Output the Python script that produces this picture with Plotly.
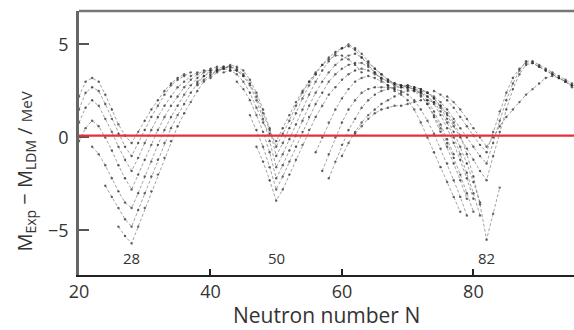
import plotly.graph_objects as go

# Isotope chains: (first neutron number N, values of M_Exp - M_LDM in MeV at N, N+1, ...)
c1_start, c1 = 20, [2.2, 3.0, 3.2, 3.0, 2.3, 1.5, 0.7, 0.1, -0.3, 0.3, 0.9, 1.5, 2.0, 2.5, 2.9, 3.2, 3.4]
c2_start, c2 = 20, [1.5, 2.4, 2.7, 2.5, 1.8, 1.0, 0.2, -0.5, -1.0, -0.3, 0.4, 1.1, 1.7, 2.3, 2.8, 3.1, 3.3, 3.5]
c3_start, c3 = 20, [0.8, 1.6, 2.0, 1.7, 1.0, 0.3, -0.5, -1.2, -1.8, -1.1, -0.3, 0.4, 1.1, 1.7, 2.2, 2.7, 3.0, 3.3, 3.5]
c4_start, c4 = 20, [-0.2, 0.5, 0.9, 0.6, 0.0, -0.7, -1.5, -2.2, -2.8, -2.0, -1.2, -0.4, 0.4, 1.1, 1.7, 2.2, 2.7, 3.1, 3.4, 3.6, 3.6]
c5_start, c5 = 22, [-0.5, -0.9, -1.5, -2.2, -2.9, -3.5, -3.8, -3.0, -2.1, -1.3, -0.4, 0.4, 1.1, 1.7, 2.3, 2.8, 3.2, 3.5, 3.7, 3.8]
c6_start, c6 = 24, [-2.6, -3.2, -3.8, -4.4, -4.8, -3.9, -3.0, -2.1, -1.2, -0.3, 0.5, 1.2, 1.8, 2.4, 2.9, 3.3, 3.6, 3.7, 3.8, 3.7]
c7_start, c7 = 26, [-4.8, -5.3, -5.7, -4.8, -3.8, -2.9, -2.0, -1.1, -0.2, 0.6, 1.3, 1.9, 2.5, 3.0, 3.3, 3.6, 3.7, 3.8, 3.6, 3.3]

d1_start, d1 = 38, [3.0, 3.3, 3.5, 3.6, 3.7, 3.6, 3.4, 3.0, 2.4, 1.6, 0.8, 0.2, -0.2, 0.5, 1.2, 1.9, 2.5, 3.0, 3.4]
d2_start, d2 = 38, [2.8, 3.1, 3.4, 3.6, 3.8, 3.8, 3.7, 3.4, 2.9, 2.2, 1.3, 0.4, -0.5, 0.2, 0.9, 1.7, 2.4, 3.0, 3.5, 3.9,
                    4.2, 4.4, 4.4, 4.2, 3.9, 3.5]
d3_start, d3 = 40, [3.2, 3.5, 3.7, 3.9, 3.8, 3.6, 3.1, 2.4, 1.5, 0.5, -1.0, -0.3, 0.5, 1.3, 2.1, 2.8, 3.4, 3.9, 4.3, 4.6,
                    4.8, 4.9, 4.7, 4.3, 3.9, 3.5, 3.1, 2.8, 2.6]
d4_start, d4 = 42, [3.5, 3.6, 3.6, 3.3, 2.8, 2.0, 1.0, -0.2, -1.6, -0.9, -0.1, 0.7, 1.5, 2.3, 3.0, 3.6, 4.1, 4.5, 4.8, 5.0,
                    4.8, 4.5, 4.1, 3.7, 3.4, 3.1, 2.9, 2.8, 2.7, 2.6, 2.4, 2.0, 1.4, 0.7, -0.1, -0.9]
d5_start, d5 = 44, [3.0, 2.6, 2.0, 1.2, 0.3, -0.8, -2.2, -1.5, -0.7, 0.1, 0.9, 1.7, 2.4, 3.0, 3.5, 3.9, 4.2, 4.4, 4.5, 4.3,
                    4.0, 3.7, 3.4, 3.1, 2.9, 2.8, 2.7, 2.6, 2.3, 1.8, 1.1, 0.3, -0.5, -1.4, -2.3, -3.3]
d6_start, d6 = 46, [1.2, 0.4, -0.5, -1.6, -2.8, -2.1, -1.3, -0.5, 0.3, 1.1, 1.8, 2.4, 3.0, 3.4, 3.7, 3.9, 4.0, 4.0, 3.8, 3.5,
                    3.2, 3.0, 2.8, 2.7, 2.7, 2.6, 2.5, 2.2, 1.8, 1.2, 0.5, -0.3, -1.2, -2.2, -3.3]
d7_start, d7 = 47, [-0.5, -1.3, -2.3, -3.4, -2.8, -2.0, -1.2, -0.4, 0.4, 1.1, 1.7, 2.3, 2.7, 3.1, 3.4, 3.6, 3.7, 3.6, 3.4, 3.2,
                    3.0, 2.9, 2.8, 2.8, 2.7, 2.6, 2.4, 2.1, 1.6, 1.0, 0.3, -0.5, -1.4, -2.4, -3.5]

e1_start, e1 = 56, [-0.8, 0.0, 0.8, 1.5, 2.1, 2.6, 3.0, 3.2, 3.3, 3.2, 3.0, 2.8, 2.5, 2.3, 2.0, 1.5, 0.8, 0.0, -0.8, -1.6,
                    -2.4, -3.2, -4.0]
e2_start, e2 = 57, [-1.8, -0.9, 0.0, 0.8, 1.5, 2.0, 2.4, 2.6, 2.7, 2.7, 2.7, 2.6, 2.5, 2.3, 2.0, 1.5, 0.9, 0.2, -0.6, -1.4,
                    -2.3, -3.2, -4.2]
e3_start, e3 = 58, [-2.2, -1.3, -0.4, 0.4, 1.0, 1.6, 2.0, 2.3, 2.5, 2.6, 2.7, 2.7, 2.6, 2.5, 2.2, 1.8, 1.2, 0.5, -0.3, -1.1,
                    -2.0, -3.0, -4.0]
e4_start, e4 = 60, [-1.0, -0.3, 0.3, 0.8, 1.2, 1.5, 1.8, 2.0, 2.2, 2.4, 2.5, 2.5, 2.4, 2.2, 1.9, 1.4, 0.8, 0.0, -0.9, -1.9,
                    -3.0, -4.2]
e5_start, e5 = 62, [0.2, 0.6, 1.0, 1.3, 1.5, 1.6, 1.7, 1.7, 1.8, 1.9, 2.0, 2.0, 1.9, 1.7, 1.3, 0.8, 0.1, -0.9, -2.1, -3.6,
                    -5.5, -4.1, -2.7]

f1_start, f1 = 70, [2.8, 2.7, 2.6, 2.4, 2.1, 1.7, 1.2, 0.6, 0.0, -0.6, -1.2, -1.8, -2.3, -1.0, 0.3, 1.5, 2.6, 3.4, 3.9, 4.0,
                    3.8, 3.6, 3.4, 3.2, 3.0, 2.8]
f2_start, f2 = 72, [2.5, 2.4, 2.2, 1.9, 1.5, 1.0, 0.5, 0.0, -0.5, -1.0, -1.4, -0.3, 0.9, 2.0, 2.9, 3.6, 4.1, 4.1, 3.9, 3.7,
                    3.5, 3.3, 3.1, 2.9]
f3_start, f3 = 74, [2.5, 2.3, 2.0, 1.6, 1.1, 0.6, 0.1, -0.4, -0.8, 0.3, 1.4, 2.4, 3.2, 3.7, 4.0, 4.0, 3.8, 3.6, 3.4, 3.2,
                    3.0, 2.7]
f4_start, f4 = 76, [2.2, 1.9, 1.5, 1.0, 0.5, 0.0, -0.5, 0.0, 0.6, 1.1, 1.5, 1.9, 2.3, 2.6, 2.9, 3.2, 3.3, 3.2, 3.0, 2.8]

chains = [
    (c1_start, c1), (c2_start, c2), (c3_start, c3), (c4_start, c4), (c5_start, c5), (c6_start, c6), (c7_start, c7),
    (d1_start, d1), (d2_start, d2), (d3_start, d3), (d4_start, d4), (d5_start, d5), (d6_start, d6), (d7_start, d7),
    (e1_start, e1), (e2_start, e2), (e3_start, e3), (e4_start, e4), (e5_start, e5),
    (f1_start, f1), (f2_start, f2), (f3_start, f3), (f4_start, f4),
]

magic_numbers = [28, 50, 82]
x_ticks = [20, 40, 60, 80]
y_ticks = [-5, 0, 5]
y_ticktext = ["\u22125", "0", "5"]

fig = go.Figure()
for start, vals in chains:
    fig.add_trace(go.Scatter(
        x=list(range(start, start + len(vals))), y=vals,
        mode="lines+markers",
        line=dict(color="rgba(90,90,90,0.7)", width=0.8, dash="3px,2px"),
        marker=dict(size=2.4, color="rgba(40,40,40,0.7)"),
        showlegend=False, hoverinfo="skip",
    ))

for n in magic_numbers:
    fig.add_annotation(x=n, y=-6.5, text=str(n), showarrow=False,
                       font=dict(family="Open Sans", size=15, color="#333"))

fig.add_shape(type="line", xref="paper", yref="y", x0=0, x1=1, y0=0.1, y1=0.1,
              line=dict(color="#e3303c", width=2.2), layer="above")
fig.add_shape(type="line", xref="paper", yref="paper", x0=0, x1=1, y0=1, y1=1,
              line=dict(color="#777", width=2.5))

fig.add_annotation(xref="paper", yref="paper", x=0.5, y=-0.152, yanchor="middle",
                   text="Neutron number N", showarrow=False,
                   font=dict(family="Open Sans", size=21, color="#333"))
fig.add_annotation(xref="paper", yref="paper", x=-0.11, y=0.39, xanchor="center", yanchor="middle",
                   textangle=-90,
                   text="M<sub>Exp</sub> \u2212 M<sub>LDM</sub> / <span style='font-size:15px'>MeV</span>",
                   showarrow=False, font=dict(family="Open Sans", size=20, color="#333"))

fig.update_layout(
    width=574, height=330, autosize=False,
    margin=dict(l=79, r=0, t=11, b=55),
    paper_bgcolor="white", plot_bgcolor="white",
    xaxis=dict(range=[20, 95.3], tickvals=x_ticks, ticks="inside", ticklen=6, tickwidth=1.5,
               tickcolor="#222", showline=True, linecolor="#222", linewidth=1.5,
               showgrid=False, zeroline=False,
               tickfont=dict(family="Open Sans", size=18, color="#333")),
    yaxis=dict(range=[-7.4, 6.8], tickvals=y_ticks, ticktext=y_ticktext, ticks="inside", ticklen=10,
               tickwidth=2, tickcolor="#555", showline=True, linecolor="#666", linewidth=2.5,
               showgrid=False, zeroline=False, ticklabelstandoff=4,
               tickfont=dict(family="Open Sans", size=18, color="#333")),
)

fig.write_html("out.html")
